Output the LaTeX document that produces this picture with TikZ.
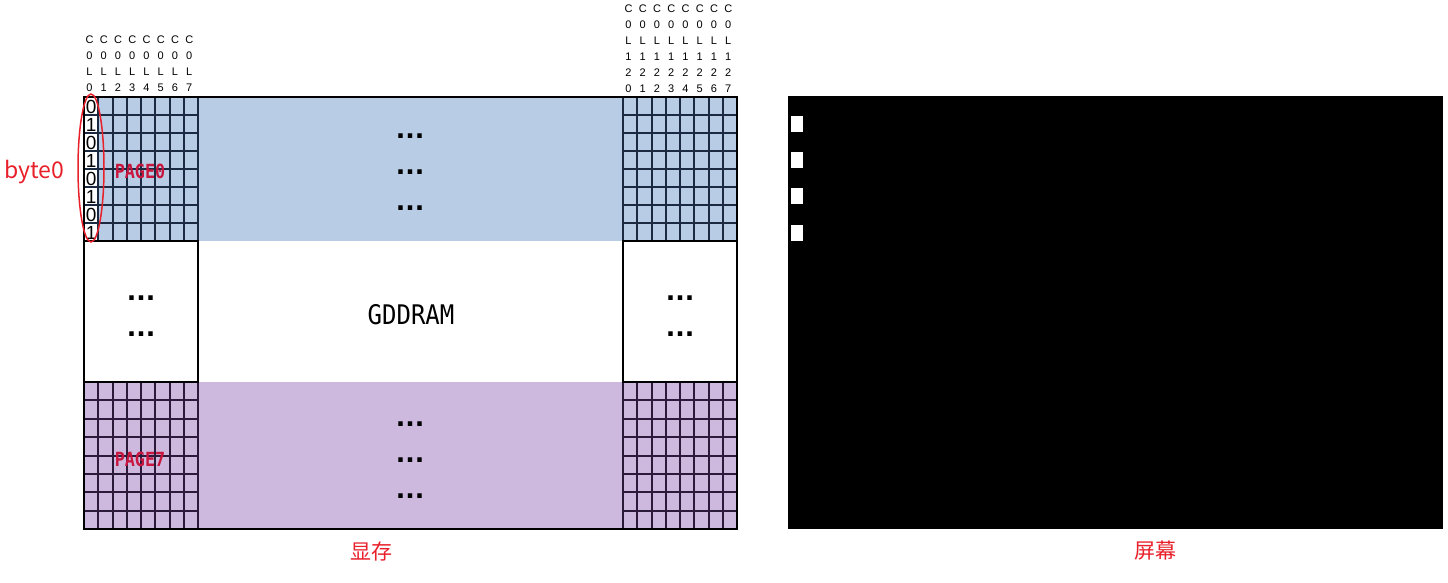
\documentclass[tikz,border=0pt]{standalone}
\usepackage{fontspec}
\setmainfont{Liberation Sans}
\newfontfamily\cjkfont{Noto Sans CJK SC}
\newfontfamily\monofont{DejaVu Sans Mono}
\newfontfamily\dotfont{DejaVu Sans}

\definecolor{bandblue}{HTML}{B8CDE5}
\definecolor{bandpurple}{HTML}{CDB8DE}
\definecolor{gridblue}{HTML}{1B2A41}
\definecolor{gridpurple}{HTML}{2B1A3A}
\definecolor{labelred}{HTML}{E8202A}
\definecolor{pagered}{HTML}{C8163E}

\begin{document}
\begin{tikzpicture}[x=1pt, y=-1pt,
  blueline/.style={draw=gridblue, line width=2pt},
  purpleline/.style={draw=gridpurple, line width=2pt},
  frame/.style={draw=black, line width=2.2pt},
  collabel/.style={align=center, inner sep=0pt, font=\fontsize{11}{16}\selectfont},
  bit/.style={inner sep=0pt, font=\fontsize{19}{19}\selectfont},
  pagelabel/.style={text=pagered, inner sep=0pt, xscale=0.86, font=\monofont\bfseries\fontsize{19.5}{19.5}\selectfont},
  dots/.style={inner sep=0pt, font=\dotfont\bfseries\fontsize{25}{25}\selectfont},
  redlabel/.style={text=labelred, font=\cjkfont\fontsize{21}{21}\selectfont}]
  \useasboundingbox (0,0) rectangle (1448,582);

  % colour bands of the memory
  \fill[bandblue] (84,97) rectangle (737,241);
  \fill[bandpurple] (84,382) rectangle (737,529);
  \fill[white] (84,97) rectangle (98.25,241);

  % cell grids in the four corners
  \foreach \x in {0,...,8} {
    \draw[blueline] (84+14.25*\x,97) -- (84+14.25*\x,241);
    \draw[blueline] (623+14.25*\x,97) -- (623+14.25*\x,241);
    \draw[purpleline] (84+14.25*\x,382) -- (84+14.25*\x,529);
    \draw[purpleline] (623+14.25*\x,382) -- (623+14.25*\x,529);
  }
  \foreach \y in {0,...,8} {
    \draw[blueline] (84,97+18*\y) -- (198,97+18*\y);
    \draw[blueline] (623,97+18*\y) -- (737,97+18*\y);
    \draw[purpleline] (84,382+18.375*\y) -- (198,382+18.375*\y);
    \draw[purpleline] (623,382+18.375*\y) -- (737,382+18.375*\y);
  }

  % middle boxes and outer frame
  \draw[frame] (84,241) rectangle (198,382);
  \draw[frame] (623,241) rectangle (737,382);
  \draw[frame] (84,97) rectangle (737,529);

  % bits of byte0
  \foreach \b [count=\i from 0] in {0,1,0,1,0,1,0,1}
    \node[bit] (bit\i) at (91.1,106.5+18*\i) {\b};
  \draw[labelred, line width=1.5pt] (91,168) ellipse [x radius=13pt, y radius=74pt];
  \node[redlabel, anchor=west, inner sep=0pt, font=\cjkfont\fontsize{23}{23}\selectfont] (byte) at (4,172) {byte0};

  % column labels
  \foreach \i in {0,...,7} {
    \node[collabel] (lcol\i) at (89.5+14.25*\i,64) {C\\0\\L\\\i};
    \node[collabel] (rcol\i) at (628.5+14.25*\i,49) {C\\0\\L\\1\\2\\\i};
  }

  \node[pagelabel] (page0) at (140,171) {PAGE0};
  \node[pagelabel] (page7) at (140,459) {PAGE7};

  % dots
  \node[dots] (dt1) at (410,136) {...};
  \node[dots] (dt2) at (410,172) {...};
  \node[dots] (dt3) at (410,208) {...};
  \node[dots] (db1) at (410,424) {...};
  \node[dots] (db2) at (410,460) {...};
  \node[dots] (db3) at (410,496) {...};
  \node[dots] (dl1) at (141,298) {...};
  \node[dots] (dl2) at (141,334) {...};
  \node[dots] (dr1) at (680,298) {...};
  \node[dots] (dr2) at (680,334) {...};

  \node[font=\monofont\fontsize{27}{27}\selectfont, xscale=0.89] (gddram) at (411,315) {GDDRAM};

  % screen
  \fill[black] (788,96) rectangle (1443,529);
  \foreach \y in {116,152,188,225}
    \fill[white] (791,\y) rectangle (803,\y+16);

  \node[redlabel] (vram) at (371,551) {显存};
  \node[redlabel] (screen) at (1155,551) {屏幕};
\end{tikzpicture}
\end{document}
